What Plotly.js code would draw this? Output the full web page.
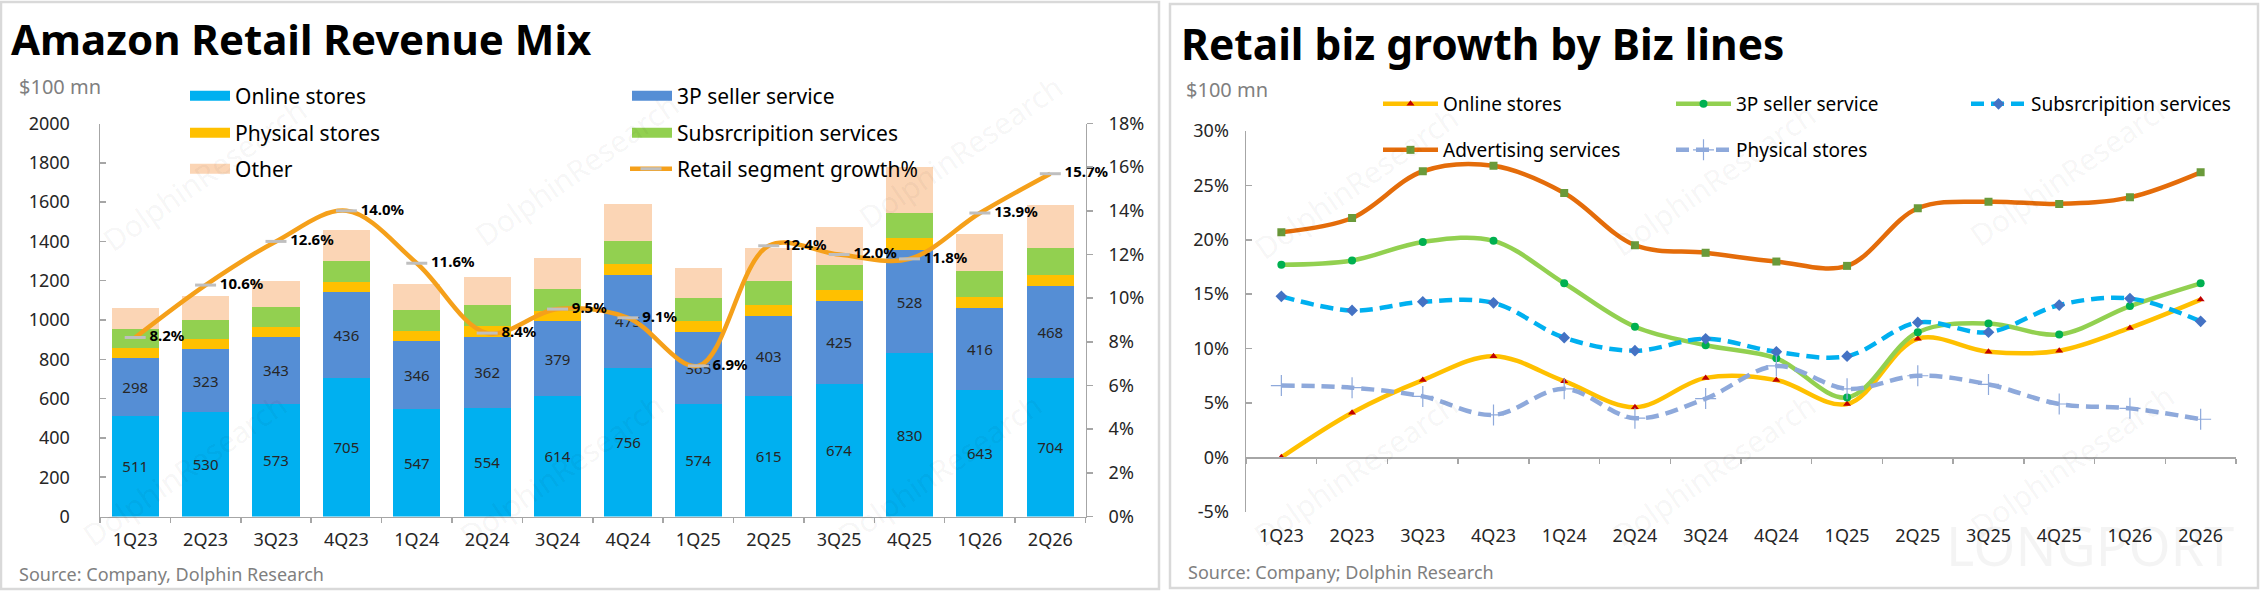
<!DOCTYPE html>
<html>
<head>
<meta charset="utf-8">
<script src="https://cdn.plot.ly/plotly-3.0.1.min.js"></script>
<style>
  html, body { margin: 0; padding: 0; background: #fff; }
  #chart { width: 2260px; height: 594px; }
</style>
</head>
<body>
<div id="chart"></div>
<script>
// quarters shared by both panels
var quarters = ['1Q23', '2Q23', '3Q23', '4Q23', '1Q24', '2Q24', '3Q24', '4Q24', '1Q25', '2Q25', '3Q25', '4Q25', '1Q26', '2Q26'];

// left panel: revenue mix, $100 mn
var onlineStores = [511, 530, 573, 705, 547, 554, 614, 756, 574, 615, 674, 830, 643, 704];
var sellerService = [298, 323, 343, 436, 346, 362, 379, 475, 365, 403, 425, 528, 416, 468];
var physicalStores = [50, 50, 50, 52, 52, 52, 52, 56, 55, 56, 56, 58, 58, 57];
var subscriptions = [97, 99, 102, 105, 107, 109, 113, 115, 117, 122, 126, 128, 132, 137];
var otherRevenue = [105, 120, 132, 160, 131, 141, 156, 188, 152, 170, 191, 233, 187, 218];
var retailGrowth = [0.082, 0.106, 0.126, 0.140, 0.116, 0.084, 0.095, 0.091, 0.069, 0.124, 0.120, 0.118, 0.139, 0.157];

// right panel: yoy growth by biz line
var growthOnline = [0.000, 0.041, 0.071, 0.093, 0.070, 0.046, 0.073, 0.071, 0.049, 0.109, 0.097, 0.098, 0.119, 0.145];
var growthSeller = [0.177, 0.181, 0.198, 0.199, 0.160, 0.120, 0.103, 0.091, 0.055, 0.115, 0.123, 0.113, 0.139, 0.160];
var growthSubs = [0.148, 0.135, 0.143, 0.142, 0.110, 0.098, 0.109, 0.097, 0.093, 0.124, 0.115, 0.140, 0.146, 0.125];
var growthAds = [0.207, 0.220, 0.263, 0.268, 0.243, 0.195, 0.188, 0.180, 0.176, 0.229, 0.235, 0.233, 0.239, 0.262];
var growthPhysical = [0.066, 0.064, 0.056, 0.039, 0.063, 0.036, 0.054, 0.084, 0.063, 0.075, 0.067, 0.049, 0.045, 0.035];

var leftTicks = [0, 0.02, 0.04, 0.06, 0.08, 0.10, 0.12, 0.14, 0.16, 0.18];
var rightTicks = [-0.05, 0, 0.05, 0.10, 0.15, 0.20, 0.25, 0.30];

var W = 2260, H = 594;
function px(x) { return x / W; }
function py(y) { return 1 - y / H; }
function pct(v) { return Math.round(v * 100) + '%'; }

var FONT = 'Noto Sans, Open Sans, sans-serif';
var INK = '#262626';
var AXIS = '#a6a6a6';
var DASH = '13px,7px';

var leftDomX = [px(100), px(1085.5)];
var leftDomY = [py(516.5), py(123.5)];
var rightDomX = [px(1246), px(2236)];
var rightDomY = [py(511.7), py(131)];
var zeroPos = rightDomY[0] + (0 - rightTicks[0]) / (0.30 - rightTicks[0]) * (rightDomY[1] - rightDomY[0]);

function barTrace(name, values, color, labelled) {
    var t = {
        type: 'bar', name: name, x: quarters, y: values,
        xaxis: 'x', yaxis: 'y',
        marker: {color: color},
        showlegend: false,
        hoverinfo: 'x+y+name'
    };
    if (labelled) {
        t.texttemplate = '%{y}';
        t.textposition = 'inside';
        t.insidetextanchor = 'middle';
        t.textangle = 0;
        t.constraintext = 'none';
        t.textfont = {family: FONT, size: 15, color: INK};
    }
    return t;
}

// legend swatches for the bars (wide rectangles like the original)
function swatch(name, color, legend) {
    return {
        type: 'scatter', mode: 'lines', name: name, x: [null], y: [null],
        xaxis: 'x', yaxis: 'y', legend: legend,
        line: {color: color, width: 10},
        hoverinfo: 'skip'
    };
}

function growthLine(name, values, color, dash, marker, legend) {
    return {
        type: 'scatter', mode: 'lines+markers', name: name,
        x: quarters, y: values, xaxis: 'x2', yaxis: 'y2', legend: legend,
        line: {color: color, width: 4.5, shape: 'spline', dash: dash},
        marker: marker,
        hovertemplate: '%{x}: %{y:.1%}<extra>' + name + '</extra>'
    };
}

var data = [
    barTrace('Online stores', onlineStores, '#00B0F0', true),
    barTrace('3P seller service', sellerService, '#558ED5', true),
    barTrace('Physical stores', physicalStores, '#FFC000', false),
    barTrace('Subsrcripition services', subscriptions, '#92D050', false),
    barTrace('Other', otherRevenue, '#FBD5B5', false),
    {
        type: 'scatter', mode: 'lines+markers+text', name: 'Retail segment growth%',
        x: quarters, y: retailGrowth, xaxis: 'x', yaxis: 'y3', legend: 'legend6',
        line: {color: '#F5A01A', width: 4.5, shape: 'spline'},
        marker: {symbol: 'line-ew', size: 15, line: {color: '#BFBFBF', width: 3}},
        texttemplate: '\u00a0%{y:.1%}', textposition: 'middle right',
        textfont: {family: FONT, size: 15, color: '#000', weight: 'bold'},
        cliponaxis: false,
        hovertemplate: '%{x}: %{y:.1%}<extra></extra>'
    },
    swatch('Online stores', '#00B0F0', 'legend'),
    swatch('3P seller service', '#558ED5', 'legend2'),
    swatch('Physical stores', '#FFC000', 'legend3'),
    swatch('Subsrcripition services', '#92D050', 'legend4'),
    swatch('Other', '#FBD5B5', 'legend5'),

    growthLine('Online stores', growthOnline, '#FFC000', 'solid',
        {symbol: 'triangle-up', size: 7, color: '#C00000'}, 'legend7'),
    growthLine('3P seller service', growthSeller, '#92D050', 'solid',
        {symbol: 'circle', size: 8, color: '#00B050'}, 'legend8'),
    growthLine('Subsrcripition services', growthSubs, '#00B0F0', DASH,
        {symbol: 'diamond', size: 9, color: '#4472C4'}, 'legend9'),
    growthLine('Advertising services', growthAds, '#E46C0A', 'solid',
        {symbol: 'square', size: 8, color: '#6A9A3A'}, 'legend10'),
    growthLine('Physical stores', growthPhysical, '#8EA9DB', DASH,
        {symbol: 'cross-thin', size: 15, color: '#8EA9DB', line: {color: '#8EA9DB', width: 1.2}}, 'legend11')
];

function legendAt(x, y, size, itemwidth) {
    return {
        x: px(x), y: py(y), xanchor: 'left', yanchor: 'middle',
        orientation: 'v', bgcolor: 'rgba(0,0,0,0)', borderwidth: 0,
        itemwidth: itemwidth, itemclick: false, itemdoubleclick: false,
        font: {family: FONT, size: size, color: '#000'}
    };
}

var axisBase = {
    showgrid: false, zeroline: false, showline: true,
    linecolor: AXIS, linewidth: 1.5, tickcolor: AXIS, tickwidth: 1.5,
    tickfont: {family: FONT, size: 18, color: INK}
};

function ax(extra) { return Object.assign({}, axisBase, extra); }

function note(text, x, y, size, color, anchor) {
    return {text: text, xref: 'paper', yref: 'paper', x: px(x), y: py(y),
        xanchor: anchor || 'left', yanchor: 'middle', showarrow: false,
        font: {family: FONT, size: size, color: color}};
}

var annotations = [
    note('<b>Amazon Retail Revenue Mix</b>', 9, 38, 42, '#000'),
    note('<b>Retail biz growth by Biz lines</b>', 1179, 43, 42.5, '#000'),
    note('$100 mn', 17, 87, 20, '#7f7f7f'),
    note('$100 mn', 1184, 89, 20, '#7f7f7f'),
    note('Source: Company, Dolphin Research', 17, 574, 18, '#7f7f7f'),
    note('Source: Company; Dolphin Research', 1186, 572, 18, '#7f7f7f'),
    note('LONGPORT', 2090, 545, 54, 'rgba(0,0,0,0.045)', 'center')
];

// faint diagonal watermarks
var marks = [[205, 175], [577, 170], [961, 152], [185, 470], [562, 470], [940, 470],
    [1356, 182], [1714, 180], [2072, 170], [1356, 470], [1714, 470], [2072, 460]];
marks.forEach(function(m) {
    var a = note('DolphinResearch', m[0], m[1], 30, 'rgba(0,0,0,0.05)', 'center');
    a.textangle = -35;
    annotations.push(a);
});

var layout = {
    width: W, height: H,
    margin: {l: 0, r: 0, t: 0, b: 0},
    paper_bgcolor: '#fff', plot_bgcolor: 'rgba(0,0,0,0)',
    font: {family: FONT, color: INK},
    barmode: 'stack', bargap: 0.33,
    hovermode: 'closest',
    xaxis: ax({domain: leftDomX, anchor: 'y', type: 'category', range: [-0.5, 13.5],
        ticks: 'outside', tickson: 'boundaries', ticklen: 5, ticklabelstandoff: 6}),
    yaxis: ax({domain: leftDomY, anchor: 'x', range: [0, 2000], dtick: 200,
        ticks: 'inside', ticklen: 6, ticklabelstandoff: 25}),
    yaxis3: ax({overlaying: 'y', side: 'right', anchor: 'x', range: [0, 0.18],
        tickvals: leftTicks, ticktext: leftTicks.map(pct),
        ticks: 'outside', ticklen: 6, ticklabelstandoff: 12}),
    xaxis2: ax({domain: rightDomX, anchor: 'free', position: zeroPos, type: 'category', range: [-0.5, 13.5],
        ticks: 'outside', tickson: 'boundaries', ticklen: 5, ticklabelstandoff: 62}),
    yaxis2: ax({domain: rightDomY, anchor: 'x2', range: [-0.05, 0.30],
        tickvals: rightTicks, ticktext: rightTicks.map(pct),
        ticks: 'inside', ticklen: 6, ticklabelstandoff: 12}),
    legend: legendAt(185, 96, 21, 40),
    legend2: legendAt(627, 96, 21, 40),
    legend3: legendAt(185, 133, 21, 40),
    legend4: legendAt(627, 133, 21, 40),
    legend5: legendAt(185, 169, 21, 40),
    legend6: legendAt(625, 169, 21, 42),
    legend7: legendAt(1378, 104, 19, 55),
    legend8: legendAt(1671, 104, 19, 55),
    legend9: legendAt(1966, 104, 19, 55),
    legend10: legendAt(1378, 150, 19, 55),
    legend11: legendAt(1671, 150, 19, 55),
    annotations: annotations,
    shapes: [
        {type: 'rect', xref: 'paper', yref: 'paper', x0: px(1), x1: px(1159), y0: py(589), y1: py(2),
            line: {color: '#d9d9d9', width: 2.5}, layer: 'below'},
        {type: 'rect', xref: 'paper', yref: 'paper', x0: px(1170), x1: px(2258), y0: py(588), y1: py(4),
            line: {color: '#d9d9d9', width: 2.5}, layer: 'below'}
    ]
};

Plotly.newPlot('chart', data, layout, {displayModeBar: false, staticPlot: true});
</script>
</body>
</html>
